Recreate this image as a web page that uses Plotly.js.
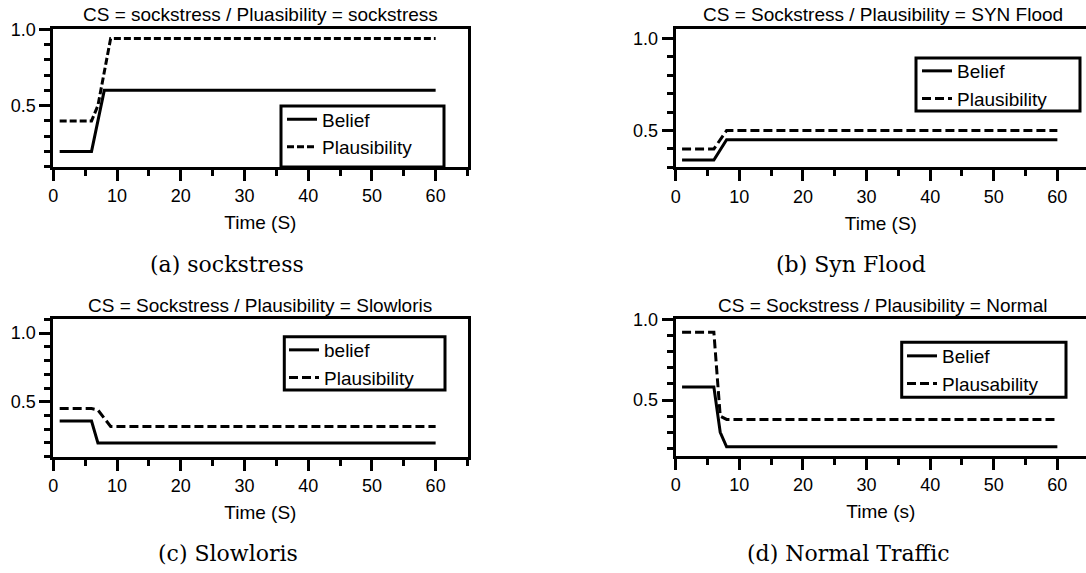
<!DOCTYPE html>
<html>
<head>
<meta charset="utf-8">
<script src="https://cdn.plot.ly/plotly-3.0.1.min.js"></script>
<style>html,body{margin:0;padding:0;background:#fff;}#chart{width:1086px;height:573px;}</style>
</head>
<body>
<div id="chart"></div>
<script>
// ---- data ----
// (a) CS = sockstress / Plausibility = sockstress
const timeBeliefA = [1, 6, 8, 60];
const beliefA     = [0.2, 0.2, 0.6, 0.6];
const timePlausA  = [1, 6, 7, 9, 60];
const plausA      = [0.4, 0.4, 0.5, 0.94, 0.94];
// (b) CS = Sockstress / Plausibility = SYN Flood
const timeBeliefB = [1, 6, 8, 60];
const beliefB     = [0.34, 0.34, 0.45, 0.45];
const timePlausB  = [1, 6, 8, 60];
const plausB      = [0.4, 0.4, 0.5, 0.5];
// (c) CS = Sockstress / Plausibility = Slowloris
const timeBeliefC = [1, 6, 7, 60];
const beliefC     = [0.36, 0.36, 0.2, 0.2];
const timePlausC  = [1, 6, 7, 9, 60];
const plausC      = [0.45, 0.45, 0.44, 0.32, 0.32];
// (d) CS = Sockstress / Plausibility = Normal
const timeBeliefD = [1, 6, 7, 8, 60];
const beliefD     = [0.58, 0.58, 0.3, 0.21, 0.21];
const timePlausD  = [1, 6, 7, 8, 60];
const plausD      = [0.92, 0.92, 0.4, 0.38, 0.38];

const panelTitles = [
  'CS = sockstress / Pluasibility = sockstress',
  'CS = Sockstress / Plausibility = SYN Flood',
  'CS = Sockstress / Plausibility = Slowloris',
  'CS = Sockstress / Plausibility = Normal'
];
const beliefNames = ['Belief', 'Belief', 'belief', 'Belief'];
const plausNames  = ['Plausibility', 'Plausibility', 'Plausibility', 'Plausability'];
const xTitles     = ['Time (S)', 'Time (S)', 'Time (S)', 'Time (s)'];
const captions    = ['(a) sockstress', '(b) Syn Flood', '(c) Slowloris', '(d) Normal Traffic'];

// ---- layout helpers ----
const W = 1086, H = 573;
const px = v => v / W;
const py = v => 1 - v / H;
const SANS = 'Liberation Sans, Arial, Helvetica, sans-serif';

const panels = [
  {xd: [px(53.3), px(467.5)], yd: [py(166.7), py(29.3)], xr: [0, 65],   yr: [0.1, 1.0],  mirrorY: true,
   tb: timeBeliefA, b: beliefA, tp: timePlausA, p: plausA, dash: '7px,3px',
   legX: 282, legY: 133.3, box: [281, 106, 444, 167], title: [260.5, 15], cap: [227, 264]},
  {xd: [px(675.7), 1.0],      yd: [py(167.3), py(29.3)], xr: [0, 64.5], yr: [0.3, 1.05], mirrorY: false,
   tb: timeBeliefB, b: beliefB, tp: timePlausB, p: plausB, dash: '9px,4px',
   legX: 917, legY: 85, box: [916, 58, 1080, 111], title: [882.5, 15], cap: [851, 264]},
  {xd: [px(53.3), px(467.5)], yd: [py(456.7), py(319.3)], xr: [0, 65],   yr: [0.1, 1.1],  mirrorY: true,
   tb: timeBeliefC, b: beliefC, tp: timePlausC, p: plausC, dash: '9px,4px',
   legX: 284, legY: 364, box: [284.3, 336.7, 445, 390], title: [260, 305], cap: [228, 553]},
  {xd: [px(675.7), 1.0],      yd: [py(455.7), py(319.3)], xr: [0, 64.5], yr: [0.155, 1.0], mirrorY: false,
   tb: timeBeliefD, b: beliefD, tp: timePlausD, p: plausD, dash: '9px,4px',
   legX: 902, legY: 370, box: [901.7, 342.3, 1066, 397.3], title: [882.5, 305], cap: [849, 553]}
];

const traces = [];
const layout = {
  width: W, height: H,
  margin: {l: 0, r: 0, t: 0, b: 0},
  paper_bgcolor: '#fff', plot_bgcolor: '#fff',
  font: {family: SANS, color: '#000', size: 19},
  annotations: [],
  shapes: [],
  showlegend: true
};

panels.forEach((P, i) => {
  const n = i === 0 ? '' : String(i + 1);
  const legKey = 'legend' + n;
  traces.push({
    x: P.tb, y: P.b, type: 'scatter', mode: 'lines', name: beliefNames[i],
    xaxis: 'x' + n, yaxis: 'y' + n, legend: legKey,
    line: {color: '#000', width: 3}
  });
  traces.push({
    x: P.tp, y: P.p, type: 'scatter', mode: 'lines', name: plausNames[i],
    xaxis: 'x' + n, yaxis: 'y' + n, legend: legKey,
    line: {color: '#000', width: 3, dash: P.dash}
  });
  layout['xaxis' + n] = {
    domain: P.xd, range: P.xr, anchor: 'y' + n,
    showline: true, linecolor: '#000', linewidth: 3, mirror: true,
    showgrid: false, zeroline: false,
    tickmode: 'linear', tick0: 0, dtick: 10,
    ticks: 'outside', ticklen: 11, tickwidth: 3, tickcolor: '#000',
    tickfont: {family: SANS, size: 18, color: '#000'},
    minor: {tickmode: 'linear', tick0: 0, dtick: 5, ticks: 'outside', ticklen: 6, tickwidth: 3, tickcolor: '#000'},
    title: {text: xTitles[i], font: {family: SANS, size: 19, color: '#000'}, standoff: 11},
    fixedrange: true
  };
  layout['yaxis' + n] = {
    domain: P.yd, range: P.yr, anchor: 'x' + n,
    showline: true, linecolor: '#000', linewidth: 3, mirror: P.mirrorY,
    showgrid: false, zeroline: false,
    tickmode: 'linear', tick0: 0, dtick: 0.5, tickformat: '.1f',
    ticks: 'outside', ticklen: 11, tickwidth: 3, tickcolor: '#000',
    tickfont: {family: SANS, size: 18, color: '#000'},
    minor: {tickmode: 'linear', tick0: 0, dtick: 0.1, ticks: 'outside', ticklen: 6, tickwidth: 3, tickcolor: '#000'},
    fixedrange: true
  };
  layout[legKey] = {
    x: px(P.legX), y: py(P.legY), xanchor: 'left', yanchor: 'middle',
    xref: 'paper', yref: 'paper',
    bgcolor: 'rgba(0,0,0,0)', borderwidth: 0,
    font: {family: SANS, size: 19, color: '#000'},
    traceorder: 'normal', tracegroupgap: 0
  };
  // legend frame
  layout.shapes.push({
    type: 'rect', xref: 'paper', yref: 'paper',
    x0: px(P.box[0]), x1: px(P.box[2]), y0: py(P.box[3]), y1: py(P.box[1]),
    line: {color: '#000', width: 3}, fillcolor: 'rgba(0,0,0,0)', layer: 'above'
  });
  layout.annotations.push({
    text: panelTitles[i], xref: 'paper', yref: 'paper',
    x: px(P.title[0]), y: py(P.title[1]), xanchor: 'center', yanchor: 'middle',
    showarrow: false, font: {family: SANS, size: 19, color: '#000'}
  });
  layout.annotations.push({
    text: captions[i], xref: 'paper', yref: 'paper',
    x: px(P.cap[0]), y: py(P.cap[1]), xanchor: 'center', yanchor: 'middle',
    showarrow: false, font: {family: 'DejaVu Serif, serif', size: 22, color: '#000'}
  });
});

Plotly.newPlot('chart', traces, layout, {displayModeBar: false, staticPlot: true});
</script>
</body>
</html>
